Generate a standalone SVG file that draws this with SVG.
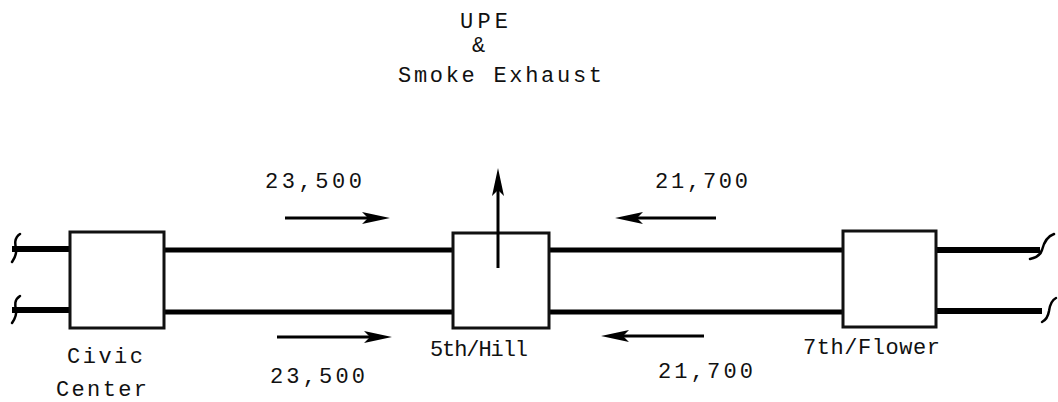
<svg xmlns="http://www.w3.org/2000/svg" width="1058" height="402" viewBox="0 0 1058 402">
<style>
.t{font-family:"Liberation Mono","DejaVu Sans Mono",monospace;font-size:22px;fill:#111}
.box{fill:#fff;stroke:#111;stroke-width:3}
.tube{stroke:#000;stroke-width:5;fill:none}
.tube2{stroke:#000;stroke-width:6;fill:none}
.sq{stroke:#000;stroke-width:2.5;fill:none;stroke-linecap:round}
.arr{stroke:#000;stroke-width:3;fill:none}
</style>
<defs>
<path id="head" d="M0,0 L-28,-6 L-22,0 L-28,6 Z" fill="#000"/>
</defs>
<rect width="1058" height="402" fill="#fff"/>
<g id="connectors">
<path class="tube2" d="M12,249 H71 M12,310 H71"/>
<path class="tube" d="M163,250 H454 M163,312 H454"/>
<path class="tube" d="M548,250 H844 M548,312 H844"/>
<path class="tube2" d="M935,250 H1040 M935,311 H1042"/>
<path class="sq" d="M20,234 C14,238 15,244 16,249 C17,255 14,259 12,262"/>
<path class="sq" d="M20,296 C14,300 15,305 16,310 C17,316 14,320 12,323"/>
<path class="sq" d="M1030,259 C1036,258 1040,256 1042,250 C1044,242 1048,236 1054,234"/>
<path class="sq" d="M1042,322 C1046,320 1048,317 1049,311 C1050,304 1052,300 1056,298"/>
<path class="arr" d="M285,218 H375"/>
<use href="#head" transform="translate(390,218)"/>
<path class="arr" d="M277,337 H378"/>
<use href="#head" transform="translate(392,337)"/>
<path class="arr" d="M716,218 H630"/>
<use href="#head" transform="translate(615,218) rotate(180)"/>
<path class="arr" d="M704,336 H615"/>
<use href="#head" transform="translate(601,336) rotate(180)"/>
</g>
<g id="civic-center">
<rect class="box" x="70" y="232" width="94" height="96"/>
<text class="t" x="67" y="363" textLength="76" lengthAdjust="spacing">Civic</text>
<text class="t" x="56" y="396" textLength="91" lengthAdjust="spacing">Center</text>
</g>
<g id="fifth-hill">
<rect class="box" x="453" y="233" width="96" height="95"/>
<text class="t" x="430" y="356" textLength="98" lengthAdjust="spacing">5th/Hill</text>
</g>
<g id="seventh-flower">
<rect class="box" x="843" y="231" width="93" height="96"/>
<text class="t" x="803" y="354" textLength="137" lengthAdjust="spacing">7th/Flower</text>
</g>
<g id="upe">
<path class="arr" d="M498,268 V182"/>
<use href="#head" transform="translate(498,168) rotate(-90)"/>
<text class="t" x="460" y="28" textLength="48" lengthAdjust="spacing">UPE</text>
<text class="t" x="472" y="52">&amp;</text>
<text class="t" x="398" y="82" textLength="204" lengthAdjust="spacing">Smoke Exhaust</text>
</g>
<g id="flows">
<text class="t" x="265" y="188" textLength="97" lengthAdjust="spacing">23,500</text>
<text class="t" x="655" y="188" textLength="93" lengthAdjust="spacing">21,700</text>
<text class="t" x="270" y="383" textLength="95" lengthAdjust="spacing">23,500</text>
<text class="t" x="658" y="378" textLength="95" lengthAdjust="spacing">21,700</text>
</g>
</svg>
